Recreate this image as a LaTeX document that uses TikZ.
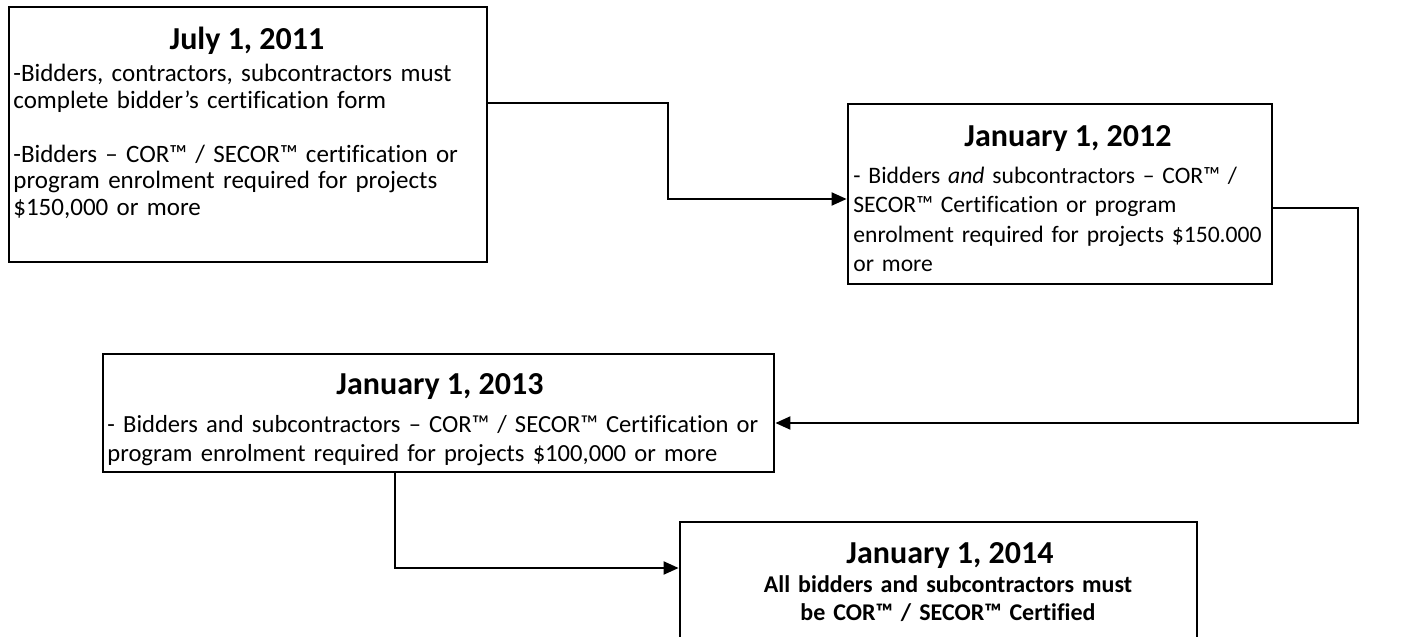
\documentclass[tikz,border=0pt]{standalone}
\usepackage{fontspec}
\setmainfont{Carlito}[Ligatures=NoCommon]
\usetikzlibrary{arrows.meta}
\begin{document}
\begin{tikzpicture}[x=0.5pt,y=-0.5pt,
  box/.style={draw=black,line width=1.4pt,fill=none,inner sep=0pt,rectangle},
  title/.style={font=\fontsize{16}{19}\selectfont\bfseries,inner sep=0pt,anchor=base},
  body/.style={inner sep=0pt,anchor=base west,text width=420pt,align=left},
  cbody/.style={inner sep=0pt,anchor=base,text width=300pt,align=center},
  conn/.style={draw=black,line width=1pt,-{Triangle[length=7.5pt,width=6.5pt]}}]
\clip (0,0) rectangle (1405,637);
\useasboundingbox (0,0) rectangle (1405,637);

% boxes
\node[box,minimum width=239pt,minimum height=127.5pt] (b1) at (248,134.5) {};
\node[box,minimum width=212pt,minimum height=90pt] (b2) at (1060,194) {};
\node[box,minimum width=335.5pt,minimum height=59pt] (b3) at (438.5,413) {};
\node[box,minimum width=258.5pt,minimum height=70pt] (b4) at (938.5,592) {};

\node[title] (t1) at (247,49) {July 1, 2011};
\node[body,font=\fontsize{12.5}{13.35}\selectfont] (x1) at (13,82) {-Bidders, contractors, subcontractors must\\
complete bidder’s certification form\\[13.35pt]
-Bidders – COR™ / SECOR™ certification or\\
program enrolment required for projects\\
\$150,000 or more};

\node[title] (t2) at (1068,146) {January 1, 2012};
\node[body,font=\fontsize{11.8}{14.75}\selectfont] (x2) at (853,183) {- Bidders \textit{and} subcontractors – COR™ /\\
SECOR™ Certification or program\\
enrolment required for projects \$150.000\\
or more};

\node[title] (t3) at (440,394) {January 1, 2013};
\node[body,font=\fontsize{12.3}{14.5}\selectfont] (x3) at (107,432) {- Bidders and subcontractors – COR™ / SECOR™ Certification or\\
program enrolment required for projects \$100,000 or more};

\node[title] (t4) at (950,563) {January 1, 2014};
\node[cbody,font=\fontsize{12}{14}\selectfont\bfseries] (x4) at (948,592) {All bidders and subcontractors must\\
be COR™ / SECOR™ Certified};

\coordinate (k1) at (668,103);
\coordinate (k2) at (668,199);
\draw[conn] (b1.east |- k1) -- (k1) -- (k2) -- (b2.west |- k2);

\coordinate (k3) at (1358,208);
\coordinate (k4) at (1358,423);
\draw[conn] (b2.east |- k3) -- (k3) -- (k4) -- (b3.east |- k4);

\coordinate (k5) at (395,568);
\draw[conn] (b3.south -| k5) -- (k5) -- (b4.west |- k5);
\end{tikzpicture}
\end{document}
